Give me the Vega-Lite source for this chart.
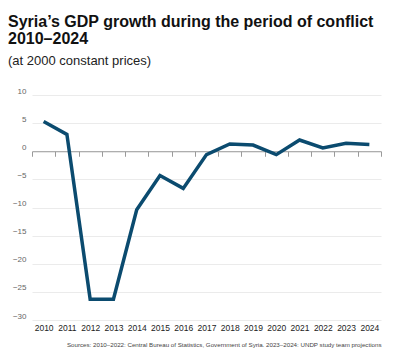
{
  "$schema": "https://vega.github.io/schema/vega-lite/v6.json",
  "autosize": {"type": "none"},
  "width": 349,
  "height": 225,
  "padding": {"left": 32, "top": 95, "right": 19, "bottom": 40},
  "background": "white",
  "title": {
    "text": ["Syria’s GDP growth during the period of conflict", "2010–2024"],
    "subtitle": "(at 2000 constant prices)",
    "anchor": "start",
    "frame": "group",
    "dx": -24,
    "offset": 19,
    "font": "Liberation Sans",
    "fontSize": 16,
    "fontWeight": "bold",
    "lineHeight": 17,
    "color": "#111111",
    "subtitleFont": "Liberation Sans",
    "subtitleFontSize": 13,
    "subtitleColor": "#222222",
    "subtitlePadding": 8
  },
  "config": {
    "view": {"stroke": null},
    "axis": {"labelFont": "Liberation Sans", "titleFont": "Liberation Sans"}
  },
  "data": {
    "values": [
      {"year": 2010, "growth": 5.3},
      {"year": 2011, "growth": 3.0},
      {"year": 2012, "growth": -26.3},
      {"year": 2013, "growth": -26.3},
      {"year": 2014, "growth": -10.4},
      {"year": 2015, "growth": -4.3},
      {"year": 2016, "growth": -6.6},
      {"year": 2017, "growth": -0.6},
      {"year": 2018, "growth": 1.3},
      {"year": 2019, "growth": 1.1},
      {"year": 2020, "growth": -0.6},
      {"year": 2021, "growth": 2.0},
      {"year": 2022, "growth": 0.6},
      {"year": 2023, "growth": 1.4},
      {"year": 2024, "growth": 1.2}
    ]
  },
  "mark": {"type": "line", "color": "#0b4b6f", "strokeWidth": 3.5, "strokeJoin": "miter"},
  "encoding": {
    "x": {
      "field": "year",
      "type": "ordinal",
      "bandPosition": 0.5,
      "scale": {"type": "band", "paddingInner": 0, "paddingOuter": 0},
      "axis": {
        "title": "Sources: 2010–2022: Central Bureau of Statistics, Government of Syria. 2023–2024: UNDP study team projections",
        "titleAnchor": "end",
        "titleFontSize": 6.2,
        "titleFontWeight": "normal",
        "titleColor": "#444444",
        "titlePadding": 10,
        "labelAngle": 0,
        "labelFontSize": 8.5,
        "labelColor": "#222222",
        "offset": -168.75,
        "domainColor": "#9a9a9a",
        "domainWidth": 1,
        "tickColor": "#9a9a9a",
        "tickSize": 5,
        "tickBand": "extent",
        "labelPadding": 167,
        "grid": false
      }
    },
    "y": {
      "field": "growth",
      "type": "quantitative",
      "scale": {"domain": [-30, 10], "nice": false},
      "axis": {
        "title": null,
        "values": [-30, -25, -20, -15, -10, -5, 0, 5, 10],
        "domain": false,
        "ticks": false,
        "labelFontSize": 8,
        "labelColor": "#666666",
        "labelPadding": 6,
        "labelBaseline": "alphabetic",
        "labelOffset": -2,
        "grid": true,
        "gridColor": "#ebebeb"
      }
    }
  }
}
